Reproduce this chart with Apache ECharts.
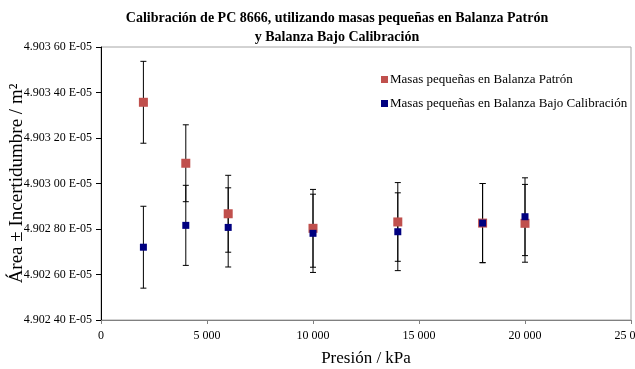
<!DOCTYPE html>
<html>
<head>
<meta charset="utf-8">
<script src="https://cdn.jsdelivr.net/npm/echarts@6/dist/echarts.min.js"></script>
<style>
  html, body { margin: 0; padding: 0; background: #fff; }
  #chart { width: 635px; height: 369px; }
</style>
</head>
<body>
<div id="chart"></div>
<script>
const chart = echarts.init(document.getElementById("chart"));

// pressures in kPa
const pressures = [2000, 4000, 6000, 10000, 14000, 18000, 20000];

// area values in units of E-05 m^2
const patronArea = [4.903357, 4.903089, 4.902867, 4.902803, 4.902831, 4.902826, 4.902825];
const patronErr = [0.000180, 0.000169, 0.000169, 0.000171, 0.000173, 0.000174, 0.000171];

const bajoArea = [4.902720, 4.902816, 4.902807, 4.902781, 4.902788, 4.902826, 4.902854];
const bajoErr = [0.000180, 0.000176, 0.000174, 0.000172, 0.000171, 0.000174, 0.000171];

const FONT = "Liberation Serif";

function errorBars(params, api) {
  const x = api.value(0);
  const top = api.coord([x, api.value(2)]);
  const bot = api.coord([x, api.value(1)]);
  const hw = 3;
  const st = { stroke: "#000", lineWidth: 1 };
  return {
    type: "group",
    children: [
      { type: "line", shape: { x1: top[0], y1: top[1], x2: bot[0], y2: bot[1] }, style: st },
      { type: "line", shape: { x1: top[0] - hw, y1: top[1], x2: top[0] + hw, y2: top[1] }, style: st },
      { type: "line", shape: { x1: bot[0] - hw, y1: bot[1], x2: bot[0] + hw, y2: bot[1] }, style: st }
    ]
  };
}

function barData(vals, errs) {
  return pressures.map((p, i) => [p, vals[i] - errs[i], vals[i] + errs[i]]);
}

chart.setOption({
  animation: false,
  title: {
    text: "Calibración de PC 8666, utilizando masas pequeñas en Balanza Patrón\ny Balanza Bajo Calibración",
    left: 332,
    textAlign: "center",
    top: 4,
    textStyle: { fontFamily: FONT, fontSize: 14, fontWeight: "bold", color: "#000", lineHeight: 19 }
  },
  grid: {
    left: 101, right: 4, top: 47, bottom: 49,
    outerBoundsMode: "none",
    show: true, borderColor: "#a6a6a6", borderWidth: 1
  },
  legend: {
    orient: "vertical",
    left: 376,
    top: 68,
    itemWidth: 7,
    itemHeight: 7,
    itemGap: 11,
    data: [
      { name: "Masas pequeñas en Balanza Patrón", icon: "rect" },
      { name: "Masas pequeñas en Balanza Bajo Calibración", icon: "rect" }
    ],
    textStyle: { fontFamily: FONT, fontSize: 13, color: "#000", padding: [0, 0, 0, -3] }
  },
  xAxis: {
    type: "value",
    min: 0,
    max: 25000,
    interval: 5000,
    name: "Presión / kPa",
    nameLocation: "middle",
    nameGap: 30,
    nameMoveOverlap: false,
    nameTextStyle: { fontFamily: FONT, fontSize: 17, color: "#000" },
    axisLine: { lineStyle: { color: "#808080" } },
    axisTick: { length: 4, lineStyle: { color: "#808080" } },
    splitLine: { show: false },
    axisLabel: {
      fontFamily: FONT, fontSize: 12, color: "#000", margin: 10,
      formatter: v => v >= 1000 ? Math.floor(v / 1000) + " " + String(v % 1000).padStart(3, "0") : String(v)
    }
  },
  yAxis: {
    type: "value",
    min: 4.9024,
    max: 4.9036,
    interval: 0.0002,
    name: "Área ± Incertidumbre / m²",
    nameLocation: "middle",
    nameGap: 74,
    nameMoveOverlap: false,
    nameTextStyle: { fontFamily: FONT, fontSize: 19, color: "#000" },
    axisLine: { show: true, lineStyle: { color: "#000" } },
    axisTick: { show: true, length: 5, lineStyle: { color: "#000" } },
    splitLine: { show: false },
    axisLabel: {
      fontFamily: FONT, fontSize: 12, color: "#000", margin: 9,
      formatter: v => {
        const s = v.toFixed(5);
        return s.slice(0, 5) + " " + s.slice(5) + " E-05";
      }
    }
  },
  series: [
    {
      type: "custom",
      name: "errPatron",
      renderItem: errorBars,
      encode: { x: 0, y: [1, 2] },
      data: barData(patronArea, patronErr),
      z: 1
    },
    {
      type: "custom",
      name: "errBajo",
      renderItem: errorBars,
      encode: { x: 0, y: [1, 2] },
      data: barData(bajoArea, bajoErr),
      z: 1
    },
    {
      type: "scatter",
      name: "Masas pequeñas en Balanza Patrón",
      symbol: "rect",
      symbolSize: 9,
      itemStyle: { color: "#c0504d", opacity: 1 },
      data: pressures.map((p, i) => [p, patronArea[i]]),
      z: 3
    },
    {
      type: "scatter",
      name: "Masas pequeñas en Balanza Bajo Calibración",
      symbol: "rect",
      symbolSize: 7,
      itemStyle: { color: "#000080", opacity: 1 },
      data: pressures.map((p, i) => [p, bajoArea[i]]),
      z: 4
    }
  ]
});
</script>
</body>
</html>
